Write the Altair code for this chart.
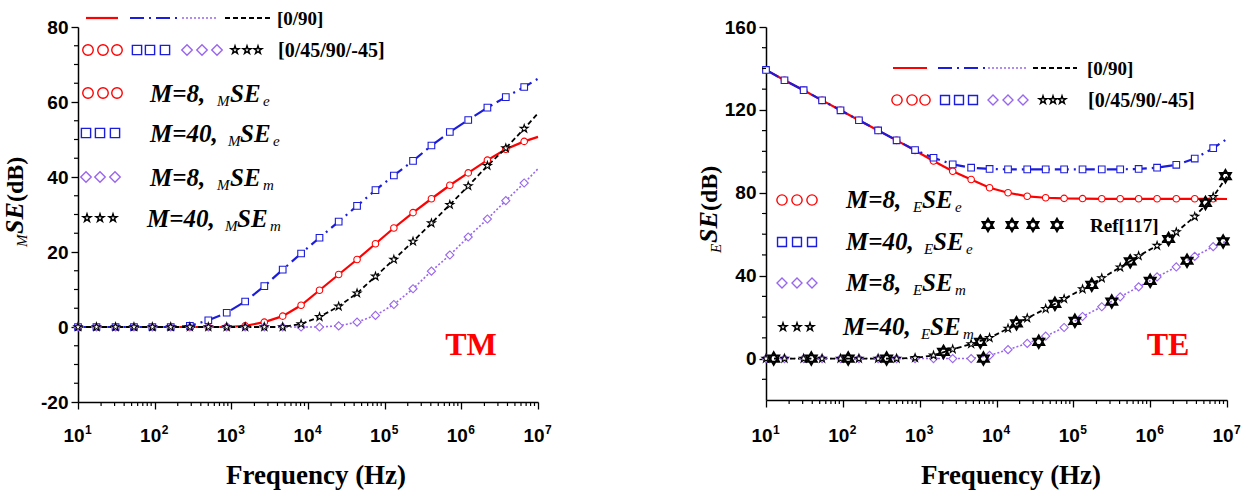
import altair as alt
import pandas as pd

# ---------------- data ----------------
FREQ = [10, 17.4, 30.9, 53.7, 93.3, 162, 288, 501, 871, 1514, 2692, 4677, 8128,
        14125, 25119, 43652, 75858, 131826, 234423, 407380, 707946, 1230269,
        2187762, 3801894, 6606934, 10000000]
N_MARK = 25  # markers on the first 25 points, the line continues to 1e7

# TM panel (MSE, dB)
TM_M8_E = [0, 0, 0, 0, 0, 0, 0, 0, 0, 0.3, 1.3, 2.9, 5.8, 9.8, 14, 18, 22.2, 26.4,
           30.5, 34.2, 37.8, 41.1, 44.5, 47.4, 49.5, 50.7]
TM_M40_E = [0, 0, 0, 0, 0, 0, 0.3, 1.8, 3.8, 6.8, 10.9, 15.3, 19.6, 23.8, 28.1,
            32.3, 36.5, 40.4, 44.3, 48.4, 52, 55.2, 58.5, 61.3, 64, 66.2]
TM_M8_M = [0, 0, 0, 0, 0, 0, 0, 0, 0, 0, 0, 0, 0, 0, 0.3, 1.3, 3.1, 6, 10.2, 14.9,
           19.2, 24, 28.8, 33.7, 38.4, 42.2]
TM_M40_M = [0, 0, 0, 0, 0, 0, 0, 0, 0, 0, 0, 0, 0.8, 2.7, 5.5, 9, 13.5, 18, 22.8,
            27.7, 32.6, 37.6, 43, 47.7, 52.9, 57]

# TE panel (ESE, dB)
TE_M8_E = [139.3, 134.3, 129.5, 124.6, 119.8, 115, 110.1, 105.3, 100.4, 95.3, 90.4,
           86.4, 82.4, 80, 78.3, 77.6, 77.3, 77.2, 77.1, 77.1, 77.1, 77.1, 77.1,
           77.1, 77.1, 77.0]
TE_M40_E = [139.3, 134.3, 129.5, 124.6, 119.8, 115, 110.1, 105.3, 100.6, 96.9,
            93.7, 92.1, 91.5, 91.3, 91.3, 91.3, 91.3, 91.3, 91.3, 91.3, 91.5, 92.1,
            93.5, 96.5, 101.5, 106]
TE_M8_M = [0, 0, 0, 0, 0, 0, 0, 0, 0, 0, 0, 0, 1.5, 4.3, 7.3, 10.8, 15, 20.3, 25,
           29.8, 34.6, 39.4, 44.2, 49.3, 54, 56.8]
TE_M40_M = [0, 0, 0, 0, 0, 0, 0, 0, 0.3, 1.5, 4.5, 7, 10, 14.5, 19.5, 24, 28.8,
            33.5, 38.8, 44, 49.5, 54.5, 61, 68.5, 78, 88]

# Ref[117] points (TE panel)
REF_BLACK_F = [12.6, 38.9, 117.5, 371.5, 2042, 6166, 18197, 57544, 173780,
               549541, 1737801, 5248075, 9549926]
REF_BLACK_V = [0, 0, 0, 0, 3.2, 8.1, 17, 26.4, 35.6, 46.9, 57.7, 75.1, 88]
REF_PURPLE_F = [6761, 35481, 104713, 316228, 1000000, 3019952, 8912509]
REF_PURPLE_V = [0, 8.1, 18.2, 27.5, 37.5, 47.2, 56.5]

DECADES = [10, 100, 1000, 10000, 100000, 1000000, 10000000]
DECADE_EXP = ["1", "2", "3", "4", "5", "6", "7"]
X_MINOR = [m * 10 ** e for e in range(1, 7) for m in range(2, 10)]
TM_Y_MINOR = [v for v in range(-20, 81, 5) if v % 20 != 0]
TE_Y_MINOR = [v for v in range(-20, 161, 10) if v % 40 != 0 and v != -20]

# ---------------- styles ----------------
RED = "#ff0000"
BLUE = "#1c1cdc"
PURPLE = "#9966ee"
BLACK = "#000000"
SERIF = "Liberation Serif"
SANS = "Liberation Sans"
HEX = "M0,-1L0.866,0.5L-0.866,0.5Z M0,1L0.866,-0.5L-0.866,-0.5Z"
STAR = ("M0,-1L0.2245,-0.309L0.951,-0.309L0.363,0.118L0.588,0.809L0,0.382"
        "L-0.588,0.809L-0.363,0.118L-0.951,-0.309L-0.2245,-0.309Z")

STY = {
    "M8e": dict(color=RED, dash=None, width=2.2, shape="circle", size=42),
    "M40e": dict(color=BLUE, dash=[14, 5, 2, 5], width=2.2, shape="square", size=44),
    "M8m": dict(color=PURPLE, dash=[2, 2], width=1.6, shape="diamond", size=66),
    "M40m": dict(color=BLACK, dash=[5, 3], width=1.8, shape=STAR, size=70),
}

ONE = pd.DataFrame({"k": [0]})


def txt(s, x, y, size, family=SERIF, weight="bold", style="normal", color=BLACK,
        align="left", baseline="alphabetic", angle=0):
    return alt.Chart(ONE).mark_text(
        text=s, font=family, fontSize=size, fontWeight=weight, fontStyle=style,
        color=color, align=align, baseline=baseline, angle=angle,
    ).encode(x=alt.value(x), y=alt.value(y))


def seg(x1, x2, y, key):
    st = STY[key]
    kw = dict(color=st["color"], strokeWidth=st["width"])
    if st["dash"]:
        kw["strokeDash"] = st["dash"]
    return alt.Chart(ONE).mark_rule(**kw).encode(
        x=alt.value(x1), x2=alt.value(x2), y=alt.value(y))


def sym(x, y, key, size):
    st = STY[key]
    return alt.Chart(ONE).mark_point(
        shape=st["shape"], color=st["color"], size=size, strokeWidth=1.4,
        filled=False, opacity=1,
    ).encode(x=alt.value(x), y=alt.value(y))


def hexsym(x, y, size=160):
    return alt.Chart(ONE).mark_point(
        shape=HEX, color=BLACK, size=size, strokeWidth=1.9, filled=False,
        fill="white", fillOpacity=1, opacity=1,
    ).encode(x=alt.value(x), y=alt.value(y))


def run(x0, base, prefix, sub1, sub2, offs):
    o1, o2, o3 = offs
    return [
        txt(prefix, x0, base, 25, style="italic"),
        txt(sub1, x0 + o1, base + 4, 15, weight="normal", style="italic"),
        txt("SE", x0 + o2, base, 25, style="italic"),
        txt(sub2, x0 + o3, base + 4, 15, weight="normal", style="italic"),
    ]


def anchor(x):
    return alt.Chart(ONE).mark_rule(color="white", strokeWidth=1).encode(
        x=alt.value(x), x2=alt.value(x), y=alt.value(-26.5), y2=alt.value(464.5))


def panel(kind):
    if kind == "TM":
        series = {"M8e": TM_M8_E, "M40e": TM_M40_E, "M8m": TM_M8_M, "M40m": TM_M40_M}
        ydom, ymaj, ymin = [-20, 80], list(range(-20, 81, 20)), TM_Y_MINOR
        w, h = 460, 375
    else:
        series = {"M8e": TE_M8_E, "M40e": TE_M40_E, "M8m": TE_M8_M, "M40m": TE_M40_M}
        ydom, ymaj, ymin = [-20, 160], list(range(0, 161, 40)), TE_Y_MINOR
        w, h = 461, 373

    xaxis = alt.Axis(values=DECADES, labels=False, title=None, grid=False,
                     domainColor=BLACK, domainWidth=1.5, tickColor=BLACK,
                     tickWidth=1.3, tickSize=7)
    yaxis = alt.Axis(values=ymaj, title=None, grid=False, domainColor=BLACK,
                     domainWidth=1.5, tickColor=BLACK, tickWidth=1.3, tickSize=7,
                     labelOverlap=False, labelFont=SANS, labelFontWeight="bold",
                     labelFontSize=19, labelColor=BLACK, labelPadding=3,
                     labelExpr="datum.value < 0 ? '-' + abs(datum.value) : datum.label")
    xsc = alt.Scale(type="log", domain=[10, 10000000], nice=False)
    ysc = alt.Scale(domain=ydom, nice=False, zero=False)
    X = alt.X("f:Q", scale=xsc, axis=xaxis)
    Y = alt.Y("v:Q", scale=ysc, axis=yaxis)

    layers = []
    for key, vals in series.items():
        st = STY[key]
        df = pd.DataFrame({"f": FREQ, "v": vals})
        kw = dict(color=st["color"], strokeWidth=st["width"])
        if st["dash"]:
            kw["strokeDash"] = st["dash"]
        layers.append(alt.Chart(df).mark_line(**kw).encode(x=X, y=Y))
    for key, vals in series.items():
        st = STY[key]
        df = pd.DataFrame({"f": FREQ[:N_MARK], "v": vals[:N_MARK]})
        layers.append(alt.Chart(df).mark_point(
            shape=st["shape"], color=st["color"], size=st["size"], strokeWidth=1.1,
            filled=False, fill="white", fillOpacity=1, opacity=1).encode(x=X, y=Y))

    if kind == "TE":
        for fs, vs in ((REF_BLACK_F, REF_BLACK_V), (REF_PURPLE_F, REF_PURPLE_V)):
            df = pd.DataFrame({"f": fs, "v": vs})
            layers.append(alt.Chart(df).mark_point(
                shape=HEX, color=BLACK, size=160, strokeWidth=1.9, filled=False,
                fill="white", fillOpacity=1, opacity=1).encode(x=X, y=Y))

    # minor ticks
    layers.append(alt.Chart(pd.DataFrame({"f": X_MINOR})).mark_rule(
        color=BLACK, strokeWidth=1.2).encode(x=X, y=alt.value(h), y2=alt.value(h + 4)))
    layers.append(alt.Chart(pd.DataFrame({"v": ymin})).mark_rule(
        color=BLACK, strokeWidth=1.2).encode(y=Y, x=alt.value(-4), x2=alt.value(0)))

    # x tick labels 10^n
    dd = pd.DataFrame({"f": DECADES, "e": DECADE_EXP})
    layers.append(alt.Chart(dd).mark_text(
        text="10", font=SANS, fontWeight="bold", fontSize=19, color=BLACK,
        align="center", baseline="alphabetic", dx=-4).encode(x=X, y=alt.value(415)))
    layers.append(alt.Chart(dd).mark_text(
        font=SANS, fontWeight="bold", fontSize=12, color=BLACK,
        align="left", baseline="alphabetic", dx=7, dy=-8).encode(
        x=X, y=alt.value(415), text="e:N"))

    # legend & annotations
    if kind == "TM":
        layers += [seg(8, 40, -9, "M8e"), seg(52, 102, -9, "M40e"),
                   seg(104, 140, -9, "M8m"), seg(147, 192, -9, "M40m"),
                   txt("[0/90]", 199, -2, 19)]
        for xs, key, sz in (([10, 25, 39], "M8e", 110), ([59, 72, 87], "M40e", 85),
                            ([109, 124, 139], "M8m", 110), ([157, 169, 180], "M40m", 70)):
            layers += [sym(x, 23, key, sz) for x in xs]
        layers.append(txt("[0/45/90/-45]", 200, 30, 20))
        rows = [("M8e", [10, 25, 39], 66, 110, 72, "M=8,", "M", "e", (67, 80, 113)),
                ("M40e", [8, 22, 37], 106, 85, 72, "M=40,", "M", "e", (78, 90, 123)),
                ("M8m", [8, 22, 37], 150, 110, 72, "M=8,", "M", "m", (67, 80, 113)),
                ("M40m", [9, 22, 35], 191, 70, 69, "M=40,", "M", "m", (78, 90, 123))]
        for key, xs, yc, sz, x0, pre, s1, s2, offs in rows:
            layers += [sym(x, yc, key, sz) for x in xs]
            layers += run(x0, yc + 9, pre, s1, s2, offs)
        layers.append(txt("TM", 393, 328, 32, color=RED, align="center"))
        layers += [txt("M", -51, 220, 15, weight="normal", style="italic", angle=270),
                   txt("SE", -55, 207, 26, style="italic", angle=270),
                   txt("(dB)", -55, 175, 24, angle=270)]
        layers.append(txt("Frequency (Hz)", 238, 457, 27, align="center"))
        layers.append(anchor(-77.5))
    else:
        layers += [seg(127, 161, 41, "M8e"), seg(172, 219, 41, "M40e"),
                   seg(222, 261, 41, "M8m"), seg(267, 311, 41, "M40m"),
                   txt("[0/90]", 321, 48, 19)]
        for xs, key, sz in (([131, 146, 159], "M8e", 105), ([179, 193, 207], "M40e", 80),
                            ([227, 242, 257], "M8m", 100), ([277, 287, 296], "M40m", 70)):
            layers += [sym(x, 73, key, sz) for x in xs]
        layers.append(txt("[0/45/90/-45]", 322, 80, 20))
        rows = [("M8e", [16, 31, 46], 173, 105, 80, "M=8,", "E", "e", (67, 76, 109)),
                ("M40e", [16, 31, 46], 215, 80, 80, "M=40,", "E", "e", (78, 87, 120)),
                ("M8m", [16, 31, 46], 256, 100, 80, "M=8,", "E", "m", (67, 76, 109)),
                ("M40m", [17, 31, 44], 300, 70, 77, "M=40,", "E", "m", (78, 87, 120))]
        for key, xs, yc, sz, x0, pre, s1, s2, offs in rows:
            layers += [sym(x, yc, key, sz) for x in xs]
            layers += run(x0, yc + 8, pre, s1, s2, offs)
        layers += [hexsym(x, 198) for x in (222, 246, 267, 291)]
        layers.append(txt("Ref[117]", 324, 205, 19))
        layers.append(txt("TE", 402, 328, 32, color=RED, align="center"))
        layers += [txt("E", -45, 226, 15, weight="normal", style="italic", angle=270),
                   txt("SE", -49, 216, 26, style="italic", angle=270),
                   txt("(dB)", -49, 184, 24, angle=270)]
        layers.append(txt("Frequency (Hz)", 245, 457, 27, align="center"))
        layers.append(anchor(478.5))

    return alt.layer(*layers).properties(width=w, height=h)


chart = alt.hconcat(panel("TM"), panel("TE"), spacing=228, bounds="flush", padding=0)
chart = chart.configure_view(strokeWidth=0)
chart.save("out.html", embed_options={"renderer": "svg", "actions": False})
